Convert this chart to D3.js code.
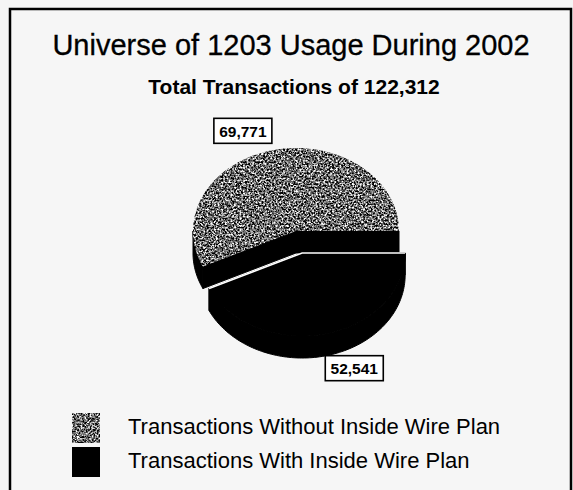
<!DOCTYPE html>
<html>
<head>
<meta charset="utf-8">
<script src="https://cdn.jsdelivr.net/npm/d3@7"></script>
<style>
  html, body { margin: 0; padding: 0; background: #f5f5f5; }
  svg { display: block; font-family: "Liberation Sans", Arial, sans-serif; }
</style>
</head>
<body>
<svg class="chart" width="573" height="490"></svg>
<script>
// chart data
var categories = ["Transactions Without Inside Wire Plan", "Transactions With Inside Wire Plan"];
var values = [69771, 52541];
var title = "Universe of 1203 Usage During 2002";
var subtitle = "Total Transactions of 122,312";

var svg = d3.select("svg.chart");

// grain filter for the speckled grey slice
var defs = svg.append("defs");
var f = defs.append("filter").attr("id", "grain")
  .attr("color-interpolation-filters", "sRGB")
  .attr("x", "-5%").attr("y", "-5%").attr("width", "110%").attr("height", "110%");
f.append("feTurbulence").attr("type", "fractalNoise").attr("baseFrequency", 0.55)
  .attr("numOctaves", 3).attr("seed", 7).attr("result", "noise");
f.append("feColorMatrix").attr("in", "noise").attr("type", "matrix")
  .attr("values", "2.6 0 0 0 -0.88  2.6 0 0 0 -0.88  2.6 0 0 0 -0.88  0 0 0 0 1")
  .attr("result", "gray");
f.append("feComposite").attr("in", "gray").attr("in2", "SourceGraphic").attr("operator", "in");

// frame
svg.append("rect")
  .attr("x", 10).attr("y", 9).attr("width", 561).attr("height", 500)
  .attr("fill", "#f6f6f6").attr("stroke", "#000").attr("stroke-width", 2.5);

// titles
svg.append("text").attr("x", 291).attr("y", 55).attr("text-anchor", "middle")
  .attr("font-size", 29).attr("fill", "#000").attr("stroke", "#000").attr("stroke-width", 0.3)
  .text(title);
svg.append("text").attr("x", 294).attr("y", 94).attr("text-anchor", "middle")
  .attr("font-size", 21).attr("font-weight", "bold").attr("fill", "#000").text(subtitle);

// 3d pie geometry
var cx = 296, cy = 231, rx = 103, ry = 83, depth = 22;
var explode = [0, 28];

var pie = d3.pie().sort(null)
  .startAngle(Math.PI / 2 + 2 * Math.PI).endAngle(Math.PI / 2);
var arcs = pie(values);

function pt(t, ox, oy, dz) {
  return [cx + ox + rx * Math.cos(t), cy + oy + ry * Math.sin(t) + dz];
}
function arcPts(t0, t1, ox, oy, dz) {
  var n = Math.max(2, Math.ceil(Math.abs(t1 - t0) * 40));
  return d3.range(n + 1).map(function(i) { return pt(t0 + (t1 - t0) * i / n, ox, oy, dz); });
}
var line = d3.line();

var slices = arcs.map(function(a, i) {
  var s = a.endAngle - Math.PI / 2, e = a.startAngle - Math.PI / 2;
  var t0 = Math.min(s, e), t1 = Math.max(s, e);
  var mid = (t0 + t1) / 2;
  var ox = explode[i] * Math.cos(mid), oy = explode[i] * Math.sin(mid) * ry / rx;
  return {i: i, t0: t0, t1: t1, mid: mid, ox: ox, oy: oy, value: a.value};
});

var pieG = svg.append("g");
slices.forEach(function(d) {
  var g = pieG.append("g");
  var c = [cx + d.ox, cy + d.oy];
  // radial walls
  [d.t0, d.t1].forEach(function(t) {
    var p = pt(t, d.ox, d.oy, 0);
    g.append("path").attr("fill", "#000").attr("stroke", "#000").attr("stroke-width", 1)
      .attr("d", line([c, p, [p[0], p[1] + depth], [c[0], c[1] + depth]]) + "Z");
  });
  // outer wall, front half only
  [[0, Math.PI], [2 * Math.PI, 3 * Math.PI]].forEach(function(r) {
    var a0 = Math.max(d.t0, r[0]), a1 = Math.min(d.t1, r[1]);
    if (a1 - a0 > 0.001) {
      var top = arcPts(a0, a1, d.ox, d.oy, 0);
      var bot = arcPts(a1, a0, d.ox, d.oy, depth);
      g.append("path").attr("fill", "#000").attr("stroke", "#000").attr("stroke-width", 1)
        .attr("d", line(top.concat(bot)) + "Z");
    }
  });
  // top face
  var face = [c].concat(arcPts(d.t0, d.t1, d.ox, d.oy, 0));
  g.append("path").attr("d", line(face) + "Z")
    .attr("fill", d.i === 0 ? "#888" : "#000")
    .attr("stroke", d.i === 0 ? null : "#000")
    .attr("filter", d.i === 0 ? "url(#grain)" : null);
  if (d.i === 1) {
    g.append("path").attr("fill", "none").attr("stroke", "#fff").attr("stroke-width", 1.6)
      .attr("d", line([pt(d.t1, d.ox, d.oy, 0), c, pt(d.t0, d.ox, d.oy, 0)]));
  }
});

// value labels
var fmt = d3.format(",");
var labelShift = [[-26, -3], [25, -4]];
slices.forEach(function(d) {
  var dz = d.i === 1 ? depth : 0;
  var p = pt(d.mid, d.ox, d.oy, 0);
  var lx = cx + d.ox + (p[0] - cx - d.ox) * 1.2 + labelShift[d.i][0];
  var ly = cy + d.oy + (p[1] - cy - d.oy) * 1.2 + dz + labelShift[d.i][1];
  var lg = svg.append("g").attr("transform", "translate(" + lx + "," + ly + ")");
  lg.append("rect").attr("x", -29).attr("y", -12.5).attr("width", 58).attr("height", 25)
    .attr("fill", "#fff").attr("stroke", "#000").attr("stroke-width", 1.6);
  lg.append("text").attr("text-anchor", "middle").attr("y", 6)
    .attr("font-size", 15.5).attr("font-weight", "bold").attr("fill", "#000").text(fmt(d.value));
});

// legend
var legend = svg.append("g").attr("transform", "translate(72,413)");
categories.forEach(function(name, i) {
  var row = legend.append("g").attr("transform", "translate(0," + (i * 34) + ")");
  row.append("rect").attr("width", 28).attr("height", 30)
    .attr("fill", i === 0 ? "#888" : "#000")
    .attr("filter", i === 0 ? "url(#grain)" : null);
  row.append("text").attr("x", 56).attr("y", 21).attr("font-size", 22)
    .attr("fill", "#000").text(name);
});
</script>
</body>
</html>
